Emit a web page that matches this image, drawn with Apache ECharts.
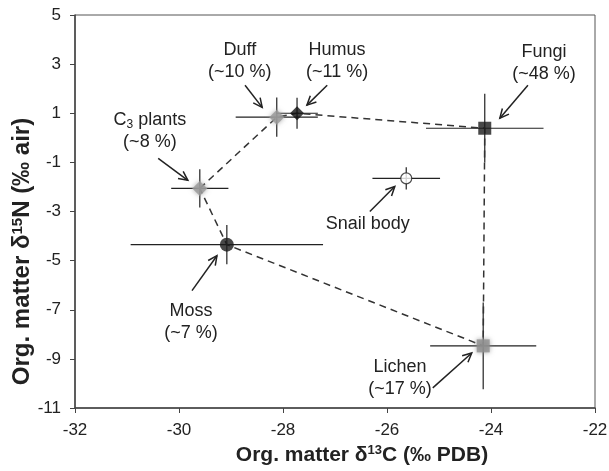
<!DOCTYPE html>
<html>
<head>
<meta charset="utf-8">
<script src="https://cdn.jsdelivr.net/npm/echarts@6/dist/echarts.min.js"></script>
<style>
html, body { margin: 0; padding: 0; background: #fff; }
#main { width: 609px; height: 471px; }
</style>
</head>
<body>
<div id="main"></div>
<script>
// source means (d13C, d15N) and their spread
var sources = ['C3 plants', 'Duff', 'Humus', 'Fungi', 'Snail body', 'Moss', 'Lichen'];
var d13C = [-29.6, -28.12, -27.73, -24.12, -25.63, -29.08, -24.15];
var d15N = [-2.06, 0.84, 1.0, 0.39, -1.65, -4.35, -8.47];
var errC = [0.55, 0.79, 0.4, 1.13, 0.65, 1.85, 1.02];
var errN = [0.78, 0.8, 0.63, 1.4, 0.45, 0.8, 1.77];
var shares = ['~8 %', '~10 %', '~11 %', '~48 %', '', '~7 %', '~17 %'];
// mixing polygon, in drawing order
var polygon = ['C3 plants', 'Duff', 'Humus', 'Fungi', 'Lichen', 'Moss', 'C3 plants'];

// annotation text anchors and arrows (data coordinates)
var labelC = [-30.56, -28.83, -26.96, -22.98, -26.37, -29.77, -25.75];
var labelN = [0.27, 3.12, 3.12, 3.04, -3.49, -7.49, -9.78];
var arrowFrom = [[-30.40, -0.84], [-28.73, 2.14], [-27.15, 2.14], [-23.29, 2.14], [-26.33, -3.0], [-29.75, -6.22], [-25.12, -10.18]];
var arrowTo = [[-29.83, -1.73], [-28.40, 1.24], [-27.54, 1.33], [-23.83, 0.80], [-25.85, -1.98], [-29.27, -4.80], [-24.37, -8.76]];

var xTicks = [-32, -22, 2];
var yTicks = [-11, 5, 2];

var myChart = echarts.init(document.getElementById('main'));

function idx(name) { return sources.indexOf(name); }

var errData = sources.map(function (s, i) { return [d13C[i], d15N[i], errC[i], errN[i]]; });
var polyData = polygon.map(function (s) { var i = idx(s); return [d13C[i], d15N[i]]; });
var annData = sources.map(function (s, i) {
    return [labelC[i], labelN[i], arrowFrom[i][0], arrowFrom[i][1], arrowTo[i][0], arrowTo[i][1], i];
});

function pt(name, symbol, size, color, border, blur) {
    var i = idx(name);
    return {
        value: [d13C[i], d15N[i]],
        symbol: symbol,
        symbolSize: size,
        itemStyle: {
            color: color,
            borderColor: border || color,
            borderWidth: border ? 1.2 : 0,
            shadowBlur: blur || 0,
            shadowColor: blur ? color : 'transparent'
        }
    };
}

var font = 'Liberation Sans, Arial, sans-serif';

option = {
    animation: false,
    grid: {
        left: 75, right: 14, top: 15, bottom: 63,
        outerBoundsMode: 'none',
        containLabel: false,
        show: true, borderColor: '#555', borderWidth: 1
    },
    xAxis: {
        type: 'value',
        min: xTicks[0], max: xTicks[1], interval: xTicks[2],
        splitLine: { show: false },
        axisLine: { onZero: false, lineStyle: { color: '#444', width: 1.5 } },
        axisTick: { length: 5, lineStyle: { color: '#444' } },
        axisLabel: { margin: 14, fontSize: 17, color: '#222', fontFamily: font },
        name: '{b|Org. matter δ}{sup|13}{b|C (‰ PDB)}',
        nameLocation: 'middle',
        nameGap: 35,
        nameTextStyle: {
            padding: [0, 0, 0, 54],
            rich: {
                b: { fontSize: 21, fontWeight: 'bold', color: '#222', fontFamily: font },
                sup: { fontSize: 13, fontWeight: 'bold', color: '#222', fontFamily: font, verticalAlign: 'top', padding: [0, 0, 9, 0] }
            }
        }
    },
    yAxis: {
        type: 'value',
        min: yTicks[0], max: yTicks[1], interval: yTicks[2],
        splitLine: { show: false },
        axisLine: { onZero: false, lineStyle: { color: '#444', width: 1.5 } },
        axisTick: { length: 5, lineStyle: { color: '#444' } },
        axisLabel: { margin: 14, fontSize: 17, color: '#222', fontFamily: font },
        name: '{b|Org. matter δ}{sup|15}{b|N (‰ air)}',
        nameLocation: 'middle',
        nameRotate: 90,
        nameGap: 40,
        nameMoveOverlap: false,
        nameTextStyle: {
            padding: [0, 80, 0, 0],
            rich: {
                b: { fontSize: 24, fontWeight: 'bold', color: '#222', fontFamily: font },
                sup: { fontSize: 15, fontWeight: 'bold', color: '#222', fontFamily: font, verticalAlign: 'top', padding: [0, 0, 10, 0] }
            }
        }
    },
    series: [
        {
            // error bars
            type: 'custom',
            data: errData,
            z: 2,
            renderItem: function (params, api) {
                var x = api.value(0), y = api.value(1), ex = api.value(2), ey = api.value(3);
                var l = api.coord([x - ex, y]), r = api.coord([x + ex, y]);
                var t = api.coord([x, y + ey]), b = api.coord([x, y - ey]);
                var st = { stroke: '#222', lineWidth: 1.2 };
                return {
                    type: 'group',
                    children: [
                        { type: 'line', shape: { x1: l[0], y1: l[1], x2: r[0], y2: r[1] }, style: st },
                        { type: 'line', shape: { x1: t[0], y1: t[1], x2: b[0], y2: b[1] }, style: st }
                    ]
                };
            }
        },
        {
            // mixing polygon
            type: 'line',
            data: polyData,
            z: 3,
            symbol: 'none',
            lineStyle: { color: '#333', width: 1.5, type: [7, 5] }
        },
        {
            type: 'scatter',
            z: 4,
            data: [
                pt('C3 plants', 'diamond', 15, '#9a9a9a', null, 5),
                pt('Duff', 'diamond', 15, '#9a9a9a', null, 5),
                pt('Humus', 'diamond', 14, '#111'),
                pt('Fungi', 'rect', 13, '#1a1a1a'),
                pt('Snail body', 'circle', 11, '#fff', '#222'),
                pt('Moss', 'circle', 14, '#1a1a1a'),
                pt('Lichen', 'rect', 13, '#8f8f8f', null, 5)
            ]
        },
        {
            // annotations with arrows
            type: 'custom',
            data: annData,
            z: 5,
            renderItem: function (params, api) {
                var i = api.value(6);
                var c = api.coord([api.value(0), api.value(1)]);
                var a = api.coord([api.value(2), api.value(3)]);
                var b = api.coord([api.value(4), api.value(5)]);
                var ang = Math.atan2(b[1] - a[1], b[0] - a[0]);
                var hl = 10, hw = 0.45;
                var p1 = [b[0] - hl * Math.cos(ang - hw), b[1] - hl * Math.sin(ang - hw)];
                var p2 = [b[0] - hl * Math.cos(ang + hw), b[1] - hl * Math.sin(ang + hw)];
                var name = sources[i];
                var txt;
                if (name === 'C3 plants') {
                    txt = '{t|C}{s|3}{t| plants}\n{t|(' + shares[i] + ')}';
                } else if (shares[i]) {
                    txt = '{t|' + name + '}\n{t|(' + shares[i] + ')}';
                } else {
                    txt = '{t|' + name + '}';
                }
                var st = { stroke: '#222', lineWidth: 1.5 };
                return {
                    type: 'group',
                    children: [
                        { type: 'line', shape: { x1: a[0], y1: a[1], x2: b[0], y2: b[1] }, style: st },
                        { type: 'polyline', shape: { points: [p1, b, p2] }, style: { stroke: '#222', lineWidth: 1.5, fill: null } },
                        {
                            type: 'text',
                            x: c[0], y: c[1],
                            style: {
                                text: txt,
                                align: 'center',
                                verticalAlign: 'middle',
                                rich: {
                                    t: { fontSize: 18, lineHeight: 22, fill: '#222', fontFamily: font, align: 'center' },
                                    s: { fontSize: 12, lineHeight: 22, fill: '#222', fontFamily: font, padding: [9, 0, 0, 0] }
                                }
                            }
                        }
                    ]
                };
            }
        }
    ]
};

myChart.setOption(option);
</script>
</body>
</html>
